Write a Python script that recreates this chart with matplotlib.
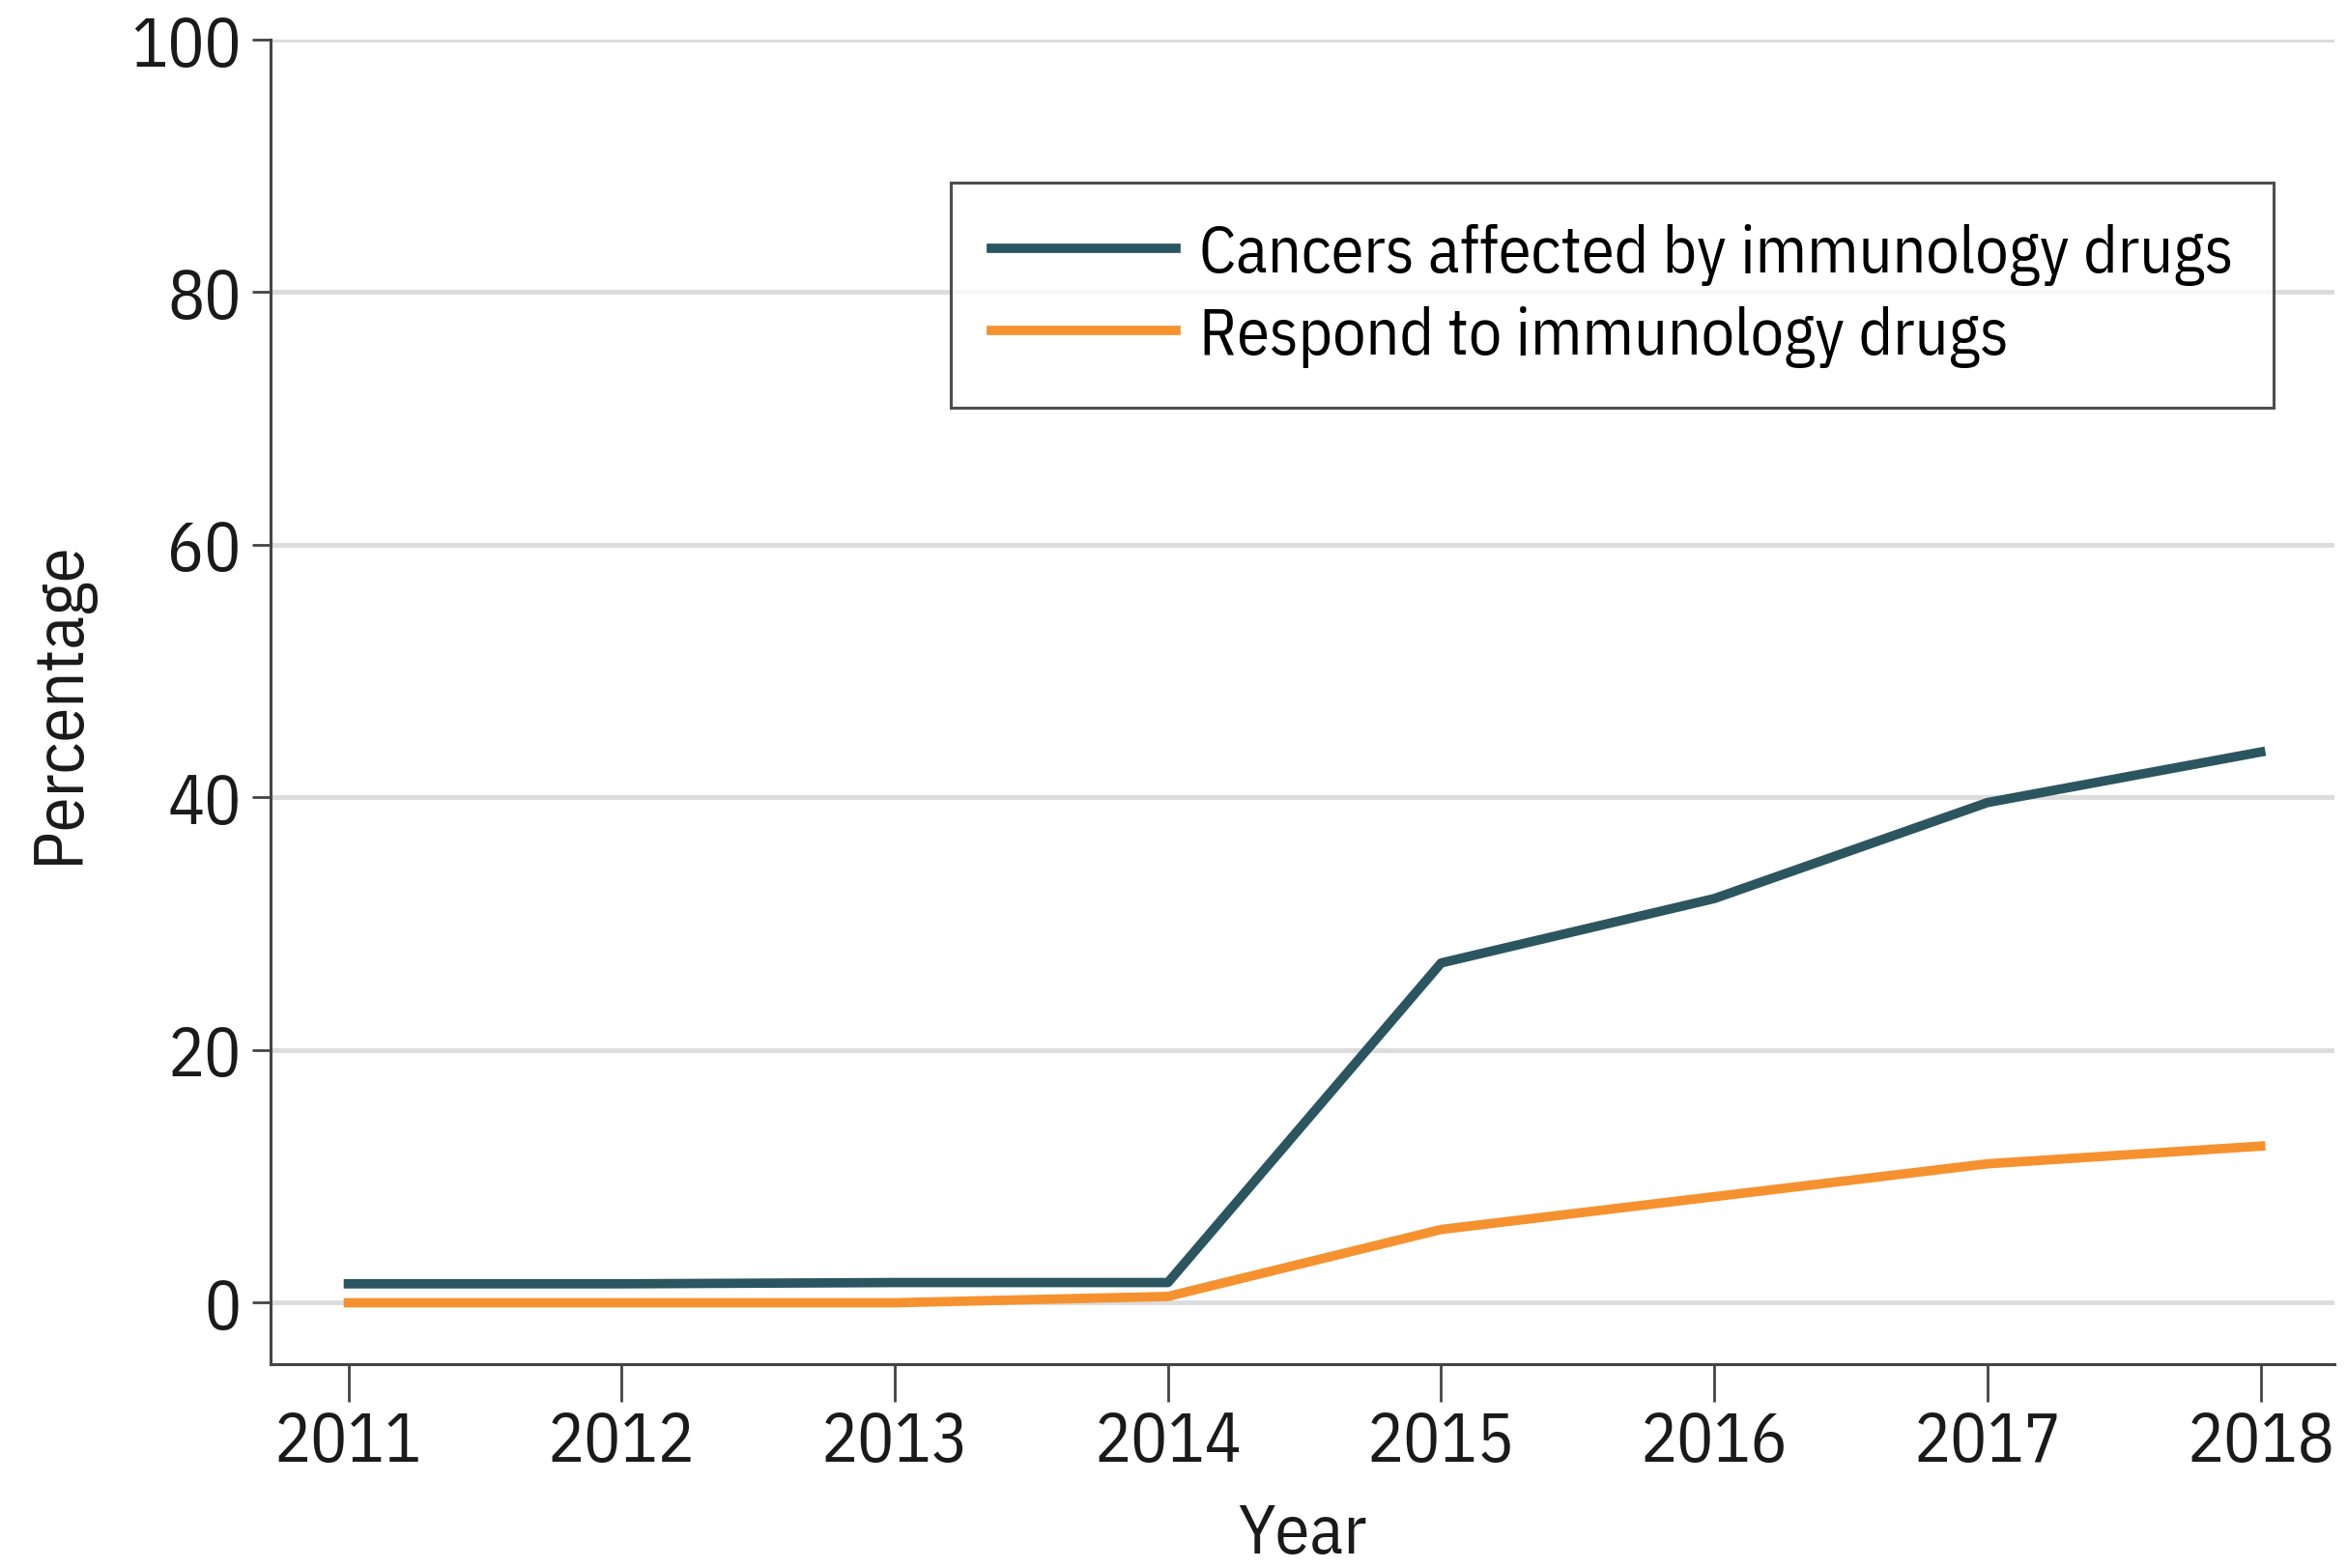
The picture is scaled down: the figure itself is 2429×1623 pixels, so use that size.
import matplotlib
matplotlib.use("Agg")
import matplotlib.pyplot as plt

years = [2011, 2012, 2013, 2014, 2015, 2016, 2017, 2018]
affected = [1.5, 1.5, 1.6, 1.6, 26.9, 32.0, 39.6, 43.6]
respond = [0.0, 0.0, 0.0, 0.5, 5.8, 8.4, 11.0, 12.4]
series_labels = ["Cancers affected by immunology drugs", "Respond to immunology drugs"]
yticks = [0, 20, 40, 60, 80, 100]

plt.rcParams['font.family'] = ['IBM Plex Sans Condensed', 'DejaVu Sans']

W, H = 2429, 1624
fig = plt.figure(figsize=(W/100, H/100), dpi=100)
L, R, T, B = 280, 2416, 42, 1413
ax = fig.add_axes([L/W, 1-B/H, (R-L)/W, (B-T)/H])

for yv in yticks:
    ax.axhline(yv, color="#dcdcdc", lw=3.5, zorder=1)

ax.plot(years, affected, color="#2b5660", lw=7, label=series_labels[0], zorder=3)
ax.plot(years, respond, color="#f5922f", lw=7, label=series_labels[1], zorder=3)

ax.set_xlim(2010.715, 2018.27)
ax.set_ylim(-4.86, 100)
ax.set_xticks(years)
ax.set_xticklabels([str(y) for y in years])
ax.set_yticks(yticks)

for s in ["top", "right"]:
    ax.spines[s].set_visible(False)
for s in ["left", "bottom"]:
    ax.spines[s].set_color("#444444")
    ax.spines[s].set_linewidth(2.2)

ax.tick_params(axis="x", length=28, width=2, color="#444444", labelsize=51, pad=6, labelcolor="#1a1a1a")
ax.tick_params(axis="y", length=14, width=2, color="#444444", labelsize=51, pad=8, labelcolor="#1a1a1a")

ax.set_xlabel("Year", fontsize=52, color="#1a1a1a", labelpad=20)
ax.set_ylabel("Percentage", fontsize=52, color="#1a1a1a", labelpad=28)

leg = ax.legend(loc="upper left", bbox_to_anchor=((984-L)/(R-L), 1-(190-T)/(B-T)),
                fontsize=49, frameon=True, fancybox=False, handlelength=2.8, handletextpad=0.35,
                borderpad=0.62, labelspacing=0.3, borderaxespad=0)
leg.get_frame().set_edgecolor("#222222")
leg.get_frame().set_linewidth(2.2)
for line in leg.get_lines():
    line.set_linewidth(7)

fig.savefig("out.png", dpi=100, facecolor="white")
